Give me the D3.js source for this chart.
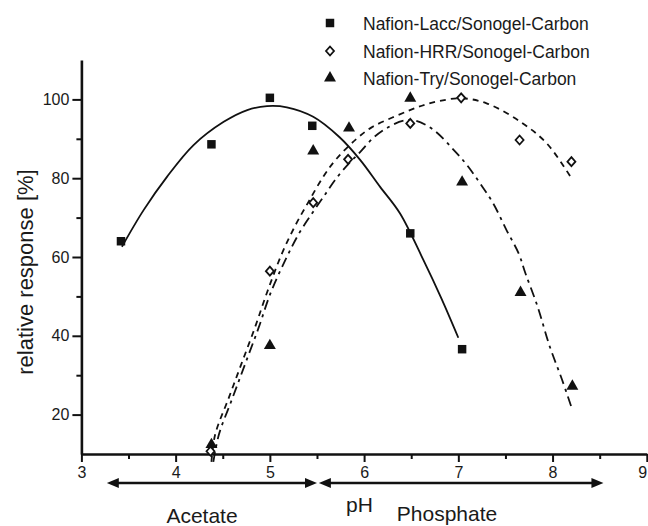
<!DOCTYPE html>
<html>
<head>
<meta charset="utf-8">
<script src="https://cdn.jsdelivr.net/npm/d3@7"></script>
<style>
  body { margin: 0; background: #fff; }
  text { font-family: "Liberation Sans", Arial, sans-serif; fill: #1a1a1a; }
</style>
</head>
<body>
<div class="chart"></div>
<script>
// measured points
var laccPH = [3.42, 4.38, 5.0, 5.45, 6.49, 7.04];
var laccResp = [64, 88.6, 100.4, 93.3, 66, 36.6];

var hrrPH = [4.37, 5.0, 5.46, 5.83, 6.49, 7.03, 7.65, 8.2];
var hrrResp = [10.7, 56.4, 73.8, 84.8, 93.9, 100.4, 89.7, 84.2];

var tryPH = [4.38, 5.0, 5.46, 5.84, 6.49, 7.04, 7.66, 8.21];
var tryResp = [12.4, 37.5, 86.9, 92.7, 100.3, 79, 51, 27.2];

// fitted curves
var laccFitPH = [3.43, 3.66, 3.91, 4.19, 4.51, 4.76, 4.97, 5.18, 5.46, 5.74, 5.96, 6.17, 6.38, 6.63, 6.82, 7.0];
var laccFitResp = [62.6, 71.9, 80.4, 88.4, 94.3, 97.3, 98.3, 98.0, 95.6, 90.4, 84.6, 77.8, 71.1, 59.2, 49.5, 39.5];

var hrrFitPH = [4.38, 4.42, 4.56, 4.70, 4.84, 4.97, 5.13, 5.27, 5.41, 5.57, 5.71, 5.92, 6.08, 6.3, 6.5, 6.65, 6.8, 7.03, 7.3, 7.66, 7.94, 8.2];
var hrrFitResp = [8, 15, 24, 33, 42, 51, 61, 68, 74, 80.5, 85, 90, 92.9, 95.4, 97.4, 98.7, 99.6, 100.3, 99, 94.3, 88.8, 80];

var tryFitPH = [4.40, 4.46, 4.60, 4.74, 4.88, 5.01, 5.17, 5.31, 5.46, 5.59, 5.69, 5.83, 5.96, 6.1, 6.26, 6.42, 6.55, 6.74, 6.95, 7.09, 7.23, 7.37, 7.51, 7.64, 7.71, 7.84, 7.97, 8.1, 8.21];
var tryFitResp = [8, 15, 24, 33, 42, 51, 59.5, 66, 71.5, 76, 79.5, 83.5, 86.7, 90.3, 93, 94.6, 94.6, 92.2, 87.2, 83.4, 78.7, 73.6, 66.9, 60.9, 56, 47.5, 37.3, 28.9, 21.2];

var seriesNames = ["Nafion-Lacc/Sonogel-Carbon", "Nafion-HRR/Sonogel-Carbon", "Nafion-Try/Sonogel-Carbon"];

var xTicks = [3, 4, 5, 6, 7, 8, 9];
var xMinor = [3.5, 4.5, 5.5, 6.5, 7.5, 8.5];
var yTicks = [20, 40, 60, 80, 100];
var yMinor = [30, 50, 70, 90];

var bufferNames = ["Acetate", "Phosphate"];
var bufferFrom = [3.27, 5.52];
var bufferTo = [5.5, 8.54];

var svgWidth = 648;
var svgHeight = 526;

var margin = {
    top: 60,
    right: 1.2,
    bottom: 72,
    left: 81.4
};

var svg = d3.select(".chart")
    .append("svg")
    .attr("width", svgWidth)
    .attr("height", svgHeight);

var x = d3.scaleLinear().domain([3, 9]).range([margin.left, svgWidth - margin.right]);
var y = d3.scaleLinear().domain([10, 110]).range([svgHeight - margin.bottom, margin.top]);

function zip(a, b) {
    return a.map((v, i) => [v, b[i]]);
}

// axes
var xAxisG = svg.append("g")
    .attr("transform", `translate(0, ${y(10)})`)
    .call(d3.axisBottom(x).tickValues(xTicks).tickSize(8).tickSizeOuter(0).tickPadding(5).tickFormat(d3.format("d")));
svg.append("g")
    .attr("transform", `translate(0, ${y(10)})`)
    .call(d3.axisBottom(x).tickValues(xMinor).tickSize(5).tickSizeOuter(0).tickFormat(""))
    .select(".domain").remove();

var yAxisG = svg.append("g")
    .attr("transform", `translate(${x(3)}, 0)`)
    .call(d3.axisLeft(y).tickValues(yTicks).tickSize(9).tickSizeOuter(0).tickPadding(3));
svg.append("g")
    .attr("transform", `translate(${x(3)}, 0)`)
    .call(d3.axisLeft(y).tickValues(yMinor).tickSize(5).tickSizeOuter(0).tickFormat(""))
    .select(".domain").remove();

svg.selectAll(".domain").attr("stroke", "#111").attr("stroke-width", 2.6);
svg.selectAll(".tick line").attr("stroke", "#111").attr("stroke-width", 2);
svg.selectAll(".tick text")
    .style("font-size", "16px")
    .style("font-family", "'Liberation Sans', Arial, sans-serif")
    .attr("fill", "#1a1a1a");

// last x label sits right at the edge, pull it in so it stays visible
xAxisG.selectAll(".tick text").filter(d => d === 9).attr("dx", "-4.5");

// y label
svg.append("text")
    .attr("transform", `translate(33, 272) rotate(-90)`)
    .attr("text-anchor", "middle")
    .style("font-size", "22px")
    .text("relative response [%]");

// fitted curves
var line = d3.line()
    .x(d => x(d[0]))
    .y(d => y(d[1]))
    .curve(d3.curveCatmullRom.alpha(0.5));

svg.append("path")
    .datum(zip(laccFitPH, laccFitResp))
    .attr("d", line)
    .attr("fill", "none")
    .attr("stroke", "#111")
    .attr("stroke-width", 1.8);

svg.append("path")
    .datum(zip(hrrFitPH, hrrFitResp))
    .attr("d", line)
    .attr("fill", "none")
    .attr("stroke", "#111")
    .attr("stroke-width", 1.8)
    .attr("stroke-dasharray", "6,5");

svg.append("path")
    .datum(zip(tryFitPH, tryFitResp))
    .attr("d", line)
    .attr("fill", "none")
    .attr("stroke", "#111")
    .attr("stroke-width", 1.8)
    .attr("stroke-dasharray", "10,5,3,5");

// markers
var square = d3.symbol().type(d3.symbolSquare).size(72);
var triangle = d3.symbol().type(d3.symbolTriangle).size(62);
// squat diamond, closer to the original than d3's tall one
var diamond = () => "M0,-4.5L4,0L0,4.5L-4,0Z";

svg.selectAll(".lacc")
    .data(zip(laccPH, laccResp))
    .enter().append("path")
    .attr("class", "lacc")
    .attr("transform", d => `translate(${x(d[0])}, ${y(d[1])})`)
    .attr("d", square)
    .attr("fill", "#111");

svg.selectAll(".try")
    .data(zip(tryPH, tryResp))
    .enter().append("path")
    .attr("class", "try")
    .attr("transform", d => `translate(${x(d[0])}, ${y(d[1])})`)
    .attr("d", triangle)
    .attr("fill", "#111");

svg.selectAll(".hrr")
    .data(zip(hrrPH, hrrResp))
    .enter().append("path")
    .attr("class", "hrr")
    .attr("transform", d => `translate(${x(d[0])}, ${y(d[1])})`)
    .attr("d", diamond)
    .attr("fill", "#fff")
    .attr("stroke", "#111")
    .attr("stroke-width", 1.8);

// legend
var legendY = [23, 51, 78];
var legendShapes = [square, diamond, triangle];
var legend = svg.append("g");
seriesNames.forEach(function(name, i) {
    var m = legend.append("path")
        .attr("transform", `translate(330, ${legendY[i]})`)
        .attr("d", legendShapes[i]);
    if (i === 1) {
        m.attr("fill", "#fff").attr("stroke", "#111").attr("stroke-width", 1.8);
    } else {
        m.attr("fill", "#111");
    }
    legend.append("text")
        .attr("x", 363)
        .attr("y", legendY[i] + 7)
        .style("font-size", "17.5px")
        .text(name);
});

// buffer arrows
var arrowY = 483;
bufferNames.forEach(function(name, i) {
    var x0 = x(bufferFrom[i]);
    var x1 = x(bufferTo[i]);
    svg.append("line")
        .attr("x1", x0 + 6).attr("x2", x1 - 6)
        .attr("y1", arrowY).attr("y2", arrowY)
        .attr("stroke", "#111").attr("stroke-width", 2.6);
    svg.append("path")
        .attr("d", `M${x0},${arrowY} L${x0 + 12},${arrowY - 5} L${x0 + 12},${arrowY + 5} Z`)
        .attr("fill", "#111");
    svg.append("path")
        .attr("d", `M${x1},${arrowY} L${x1 - 12},${arrowY - 5} L${x1 - 12},${arrowY + 5} Z`)
        .attr("fill", "#111");
});

svg.append("text")
    .attr("x", x(4.28))
    .attr("y", 523)
    .attr("text-anchor", "middle")
    .style("font-size", "21px")
    .text(bufferNames[0]);

svg.append("text")
    .attr("x", x(6.88))
    .attr("y", 521)
    .attr("text-anchor", "middle")
    .style("font-size", "21px")
    .text(bufferNames[1]);

svg.append("text")
    .attr("x", x(5.95))
    .attr("y", 512)
    .attr("text-anchor", "middle")
    .style("font-size", "21px")
    .text("pH");
</script>
</body>
</html>
